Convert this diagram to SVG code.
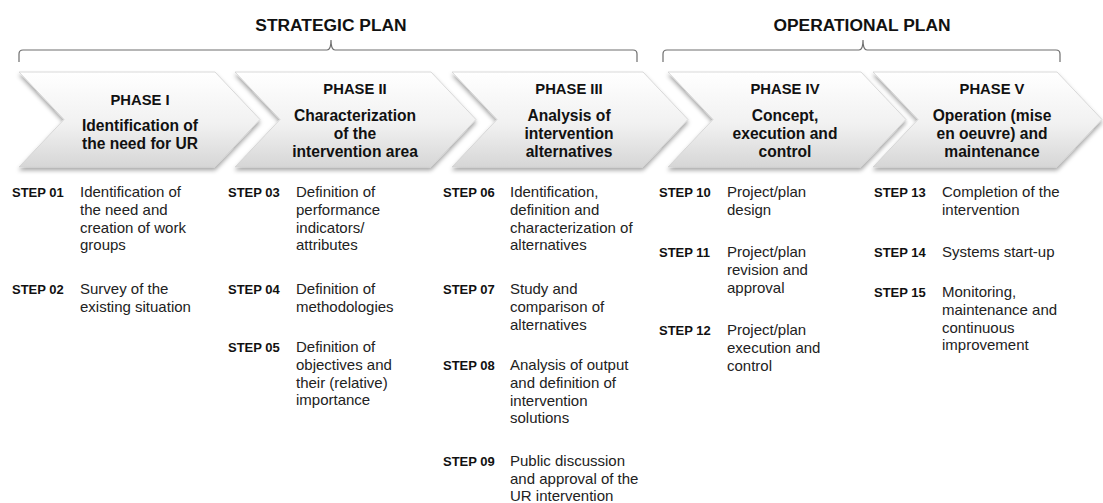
<svg xmlns="http://www.w3.org/2000/svg" width="1103" height="503" viewBox="0 0 1103 503">
  <style>
    .plan { font-family: "Liberation Sans", Arial, sans-serif; font-weight: bold; font-size: 17.4px; fill: #111; text-anchor: middle; }
    .brace { fill: none; stroke: #6e6e6e; stroke-width: 1.2; }
    .chev { fill: url(#chevFill); stroke: #d0d0d0; stroke-width: 0.8; filter: url(#chevShadow); }
    .ph { font-family: "Liberation Sans", Arial, sans-serif; font-weight: bold; font-size: 14.8px; fill: #111; text-anchor: middle; }
    .pd { font-family: "Liberation Sans", Arial, sans-serif; font-weight: bold; font-size: 15.6px; fill: #111; text-anchor: middle; }
    .sl { font-family: "Liberation Sans", Arial, sans-serif; font-weight: bold; font-size: 13px; fill: #111; }
    .sd { font-family: "Liberation Sans", Arial, sans-serif; font-size: 15px; fill: #222; }
  </style>
  <defs>
    <linearGradient id="chevFill" x1="0" y1="0" x2="0" y2="1">
      <stop offset="0" stop-color="#ffffff"/>
      <stop offset="0.55" stop-color="#f1f1f1"/>
      <stop offset="1" stop-color="#d6d6d6"/>
    </linearGradient>
    <filter id="chevShadow" x="-5%" y="-10%" width="110%" height="130%">
      <feDropShadow dx="0" dy="3" stdDeviation="2" flood-color="#000" flood-opacity="0.35"/>
    </filter>
  </defs>

  <rect width="1103" height="503" fill="#ffffff"/>

  <!-- plan titles and braces -->
  <g id="strategic-plan">
    <text class="plan" x="331" y="31">STRATEGIC PLAN</text>
    <path class="brace" d="M19 62 L19 54 Q19 50 23 50 L327 50 Q331 50 331 40 Q331 50 335 50 L633 50 Q637 50 637 54 L637 62"/>
  </g>
  <g id="operational-plan">
    <text class="plan" x="862" y="31">OPERATIONAL PLAN</text>
    <path class="brace" d="M663 62 L663 54 Q663 50 667 50 L859 50 Q863 50 863 40 Q863 50 867 50 L1056 50 Q1060 50 1060 54 L1060 62"/>
  </g>

  <!-- phase chevrons -->
  <g id="phase-1">
    <path class="chev" d="M19 72 L215 72 L260 119.5 L215 167 L19 167 L64 119.5 Z"/>
    <text class="ph" x="140" y="105">PHASE I</text>
    <text class="pd" x="140" y="131">Identification of</text>
    <text class="pd" x="140" y="149">the need for UR</text>
  </g>
  <g id="phase-2">
    <path class="chev" d="M235 72 L431 72 L476 119.5 L431 167 L235 167 L280 119.5 Z"/>
    <text class="ph" x="355" y="94">PHASE II</text>
    <text class="pd" x="355" y="121">Characterization</text>
    <text class="pd" x="355" y="139">of the</text>
    <text class="pd" x="355" y="157">intervention area</text>
  </g>
  <g id="phase-3">
    <path class="chev" d="M452 72 L643 72 L688 119.5 L643 167 L452 167 L497 119.5 Z"/>
    <text class="ph" x="569" y="94">PHASE III</text>
    <text class="pd" x="569" y="121">Analysis of</text>
    <text class="pd" x="569" y="139">intervention</text>
    <text class="pd" x="569" y="157">alternatives</text>
  </g>
  <g id="phase-4">
    <path class="chev" d="M668 72 L861 72 L906 119.5 L861 167 L668 167 L713 119.5 Z"/>
    <text class="ph" x="785" y="94">PHASE IV</text>
    <text class="pd" x="785" y="121">Concept,</text>
    <text class="pd" x="785" y="139">execution and</text>
    <text class="pd" x="785" y="157">control</text>
  </g>
  <g id="phase-5">
    <path class="chev" d="M873 72 L1057 72 L1102 119.5 L1057 167 L873 167 L918 119.5 Z"/>
    <text class="ph" x="992" y="94">PHASE V</text>
    <text class="pd" x="992" y="121">Operation (mise</text>
    <text class="pd" x="992" y="139">en oeuvre) and</text>
    <text class="pd" x="992" y="157">maintenance</text>
  </g>

  <!-- steps, phase I -->
  <g id="step-01">
    <text class="sl" x="12" y="197">STEP 01</text>
    <text class="sd" x="80" y="197">Identification of</text>
    <text class="sd" x="80" y="215">the need and</text>
    <text class="sd" x="80" y="233">creation of work</text>
    <text class="sd" x="80" y="250">groups</text>
  </g>
  <g id="step-02">
    <text class="sl" x="12" y="294">STEP 02</text>
    <text class="sd" x="80" y="294">Survey of the</text>
    <text class="sd" x="80" y="312">existing situation</text>
  </g>

  <!-- steps, phase II -->
  <g id="step-03">
    <text class="sl" x="228" y="197">STEP 03</text>
    <text class="sd" x="296" y="197">Definition of</text>
    <text class="sd" x="296" y="215">performance</text>
    <text class="sd" x="296" y="233">indicators/</text>
    <text class="sd" x="296" y="250">attributes</text>
  </g>
  <g id="step-04">
    <text class="sl" x="228" y="294">STEP 04</text>
    <text class="sd" x="296" y="294">Definition of</text>
    <text class="sd" x="296" y="312">methodologies</text>
  </g>
  <g id="step-05">
    <text class="sl" x="228" y="352">STEP 05</text>
    <text class="sd" x="296" y="352">Definition of</text>
    <text class="sd" x="296" y="370">objectives and</text>
    <text class="sd" x="296" y="388">their (relative)</text>
    <text class="sd" x="296" y="405">importance</text>
  </g>

  <!-- steps, phase III -->
  <g id="step-06">
    <text class="sl" x="443" y="197">STEP 06</text>
    <text class="sd" x="510" y="197">Identification,</text>
    <text class="sd" x="510" y="215">definition and</text>
    <text class="sd" x="510" y="233">characterization of</text>
    <text class="sd" x="510" y="250">alternatives</text>
  </g>
  <g id="step-07">
    <text class="sl" x="443" y="294">STEP 07</text>
    <text class="sd" x="510" y="294">Study and</text>
    <text class="sd" x="510" y="312">comparison of</text>
    <text class="sd" x="510" y="330">alternatives</text>
  </g>
  <g id="step-08">
    <text class="sl" x="443" y="370">STEP 08</text>
    <text class="sd" x="510" y="370">Analysis of output</text>
    <text class="sd" x="510" y="388">and definition of</text>
    <text class="sd" x="510" y="406">intervention</text>
    <text class="sd" x="510" y="423">solutions</text>
  </g>
  <g id="step-09">
    <text class="sl" x="443" y="466">STEP 09</text>
    <text class="sd" x="510" y="466">Public discussion</text>
    <text class="sd" x="510" y="484">and approval of the</text>
    <text class="sd" x="510" y="501">UR intervention</text>
  </g>

  <!-- steps, phase IV -->
  <g id="step-10">
    <text class="sl" x="659" y="197">STEP 10</text>
    <text class="sd" x="727" y="197">Project/plan</text>
    <text class="sd" x="727" y="215">design</text>
  </g>
  <g id="step-11">
    <text class="sl" x="659" y="257">STEP 11</text>
    <text class="sd" x="727" y="257">Project/plan</text>
    <text class="sd" x="727" y="275">revision and</text>
    <text class="sd" x="727" y="293">approval</text>
  </g>
  <g id="step-12">
    <text class="sl" x="659" y="335">STEP 12</text>
    <text class="sd" x="727" y="335">Project/plan</text>
    <text class="sd" x="727" y="353">execution and</text>
    <text class="sd" x="727" y="371">control</text>
  </g>

  <!-- steps, phase V -->
  <g id="step-13">
    <text class="sl" x="874" y="197">STEP 13</text>
    <text class="sd" x="942" y="197">Completion of the</text>
    <text class="sd" x="942" y="215">intervention</text>
  </g>
  <g id="step-14">
    <text class="sl" x="874" y="257">STEP 14</text>
    <text class="sd" x="942" y="257">Systems start-up</text>
  </g>
  <g id="step-15">
    <text class="sl" x="874" y="297">STEP 15</text>
    <text class="sd" x="942" y="297">Monitoring,</text>
    <text class="sd" x="942" y="315">maintenance and</text>
    <text class="sd" x="942" y="333">continuous</text>
    <text class="sd" x="942" y="350">improvement</text>
  </g>
</svg>
